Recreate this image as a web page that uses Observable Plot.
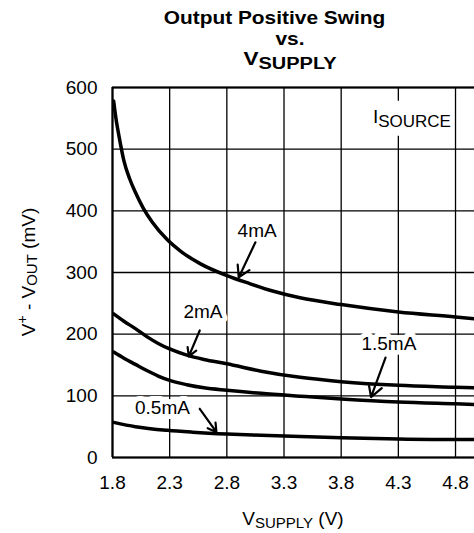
<!DOCTYPE html>
<html><head><meta charset="utf-8">
<script src="https://cdn.jsdelivr.net/npm/d3@7"></script>
<script src="https://cdn.jsdelivr.net/npm/@observablehq/plot@0.6"></script>
<style>
body{margin:0;background:#fff;overflow:hidden;}
#wrap{width:474px;height:533px;position:relative;font-family:"Liberation Sans",Arial,sans-serif;background:#fff;}
svg{display:block;}
</style></head><body><div id="wrap"></div>
<script>
// ---- data ----
const xTicks = [1.8, 2.3, 2.8, 3.3, 3.8, 4.3, 4.8];
const yTicks = [0, 100, 200, 300, 400, 500, 600];
const seriesNames = ["4mA", "2mA", "1.5mA", "0.5mA"];

const vs4mA = [1.81, 1.83, 1.86, 1.9, 1.95, 2.0, 2.07, 2.15, 2.28, 2.4, 2.57, 2.8, 3.0, 3.2, 3.44, 3.8, 4.3, 4.8, 4.97];
const mv4mA = [578, 550, 518, 481, 452, 430, 404, 381, 353, 334, 314, 295, 282, 270, 259, 248, 236, 228, 225];

const vs2mA = [1.81, 1.9, 2.0, 2.1, 2.2, 2.3, 2.45, 2.6, 2.8, 3.1, 3.44, 3.8, 4.3, 4.8, 4.97];
const mv2mA = [233, 221, 209, 196, 185, 176, 166, 159, 152, 140, 130, 123, 117, 114, 113];

const vs15mA = [1.81, 1.9, 2.0, 2.1, 2.2, 2.3, 2.45, 2.6, 2.8, 3.1, 3.44, 3.8, 4.3, 4.8, 4.97];
const mv15mA = [171, 161, 151, 141, 132, 125, 118, 113, 109, 104, 99.5, 95, 90, 87, 86];

const vs05mA = [1.81, 2.0, 2.28, 2.5, 2.8, 3.1, 3.44, 3.8, 4.3, 4.8, 4.97];
const mv05mA = [57, 50, 44, 41, 38, 36, 34, 32, 30, 29, 29];

// annotation labels (data coordinates)
const annText  = ["4mA", "2mA", "1.5mA", "0.5mA"];
const annTextX = [3.065, 2.591, 4.217, 2.237];
const annTextY = [368, 236, 184, 81];
const annFromX = [3.05, 2.563, 4.188, 2.563];
const annFromY = [349, 206, 162, 79];
const annToX   = [2.904, 2.467, 4.061, 2.709];
const annToY   = [292, 164, 98, 41];

const legendMain = "I", legendSub = "SOURCE";
const legendX = 4.082, legendY = 542;

const titleLine1 = "Output Positive Swing";
const titleLine2 = "vs.";
const titleMain3 = "V", titleSub3 = "SUPPLY";

// ---- build ----
const FONT = "Liberation Sans, Arial, sans-serif";
const rows = [];
[[vs4mA, mv4mA], [vs2mA, mv2mA], [vs15mA, mv15mA], [vs05mA, mv05mA]].forEach(([xs, ys], i) =>
  xs.forEach((x, j) => rows.push({s: seriesNames[i], x, y: ys[j]})));
const ann = annText.map((t, i) => ({t, x: annTextX[i], y: annTextY[i],
  x1: annFromX[i], y1: annFromY[i], x2: annToX[i], y2: annToY[i]}));

const wrap = d3.select("#wrap");

// title block
const TH = 76;
const T = wrap.append("svg").attr("width", 474).attr("height", TH)
  .style("font-family", FONT).style("font-weight", "bold");
T.append("text").attr("text-anchor", "middle").attr("font-size", 18)
  .attr("transform", "translate(274.5,24) scale(1.16,1)").text(titleLine1);
T.append("text").attr("text-anchor", "middle").attr("font-size", 18)
  .attr("transform", "translate(290,44.5) scale(1.16,1)").text(titleLine2);
const t3 = T.append("text").attr("text-anchor", "middle").attr("font-size", 18)
  .attr("transform", "translate(290,65) scale(1.25,1)");
t3.append("tspan").text(titleMain3);
t3.append("tspan").attr("font-size", 16).attr("dy", 4).text(titleSub3);

const plot = Plot.plot({
  width: 474, height: 533 - TH,
  marginTop: 87 - TH, marginBottom: 76, marginLeft: 112, marginRight: 0,
  style: {fontFamily: FONT, fontSize: "19px", color: "#000", background: "#fff", overflow: "visible"},
  x: {domain: [1.8, 4.966], label: null},
  y: {domain: [0, 600], label: null},
  marks: [
    Plot.gridX(xTicks, {stroke: "#000", strokeOpacity: 1, strokeWidth: 1.3}),
    Plot.gridY(yTicks, {stroke: "#000", strokeOpacity: 1, strokeWidth: 1.3}),
    Plot.ruleX([1.8], {stroke: "#000", strokeWidth: 2.2}),
    Plot.ruleY([0, 600], {stroke: "#000", strokeWidth: 2.2}),
    Plot.line(rows, {x: "x", y: "y", z: "s", stroke: "#000", strokeWidth: 3.5, curve: "monotone-x", clip: true}),
    Plot.text(ann, {x: "x", y: "y", text: "t", fontSize: 19, fill: "#000",
      stroke: "#fff", strokeWidth: 10, strokeLinejoin: "round", paintOrder: "stroke"}),
    Plot.arrow(ann, {x1: "x1", y1: "y1", x2: "x2", y2: "y2", stroke: "#000", strokeWidth: 2.2, headLength: 12}),
    Plot.axisX(xTicks, {tickSize: 0, tickPadding: 18, fontSize: 19, tickFormat: d => d.toFixed(1), label: null}),
    Plot.axisY(yTicks, {tickSize: 0, tickPadding: 15, fontSize: 19, label: null})
  ]
});
wrap.node().appendChild(plot);

const sx = plot.scale("x"), sy = plot.scale("y");
const svg = d3.select(plot);
const [x0, x1] = sx.range, [y0, y1] = sy.range;

// legend title I_SOURCE on a white box
const lgBox = svg.append("rect").attr("fill", "#fff");
const lg = svg.append("text").attr("text-anchor", "start")
  .attr("x", sx.apply(legendX)).attr("y", sy.apply(legendY))
  .attr("font-size", 19).attr("fill", "#000");
lg.append("tspan").text(legendMain);
lg.append("tspan").attr("font-size", 17).attr("dy", 4).text(legendSub);
const bb = lg.node().getBBox();
lgBox.attr("x", bb.x - 3).attr("y", bb.y - 5).attr("width", bb.width + 4).attr("height", bb.height + 10);

// y axis label
const yl = svg.append("text").attr("text-anchor", "middle").attr("font-size", 19).attr("fill", "#000")
  .attr("transform", `translate(35,${(y0 + y1) / 2}) rotate(-90)`);
yl.append("tspan").text("V");
yl.append("tspan").attr("font-size", 14).attr("dy", -8).text("+");
yl.append("tspan").attr("dy", 8).text(" - V");
yl.append("tspan").attr("font-size", 15).attr("dy", 2).text("OUT");
yl.append("tspan").attr("dy", -2).text(" (mV)");

// x axis label
const xl = svg.append("text").attr("text-anchor", "middle").attr("font-size", 19).attr("fill", "#000")
  .attr("x", (x0 + x1) / 2).attr("y", 525 - TH);
xl.append("tspan").text("V");
xl.append("tspan").attr("font-size", 15).attr("dy", 3).text("SUPPLY");
xl.append("tspan").attr("dy", -3).text(" (V)");
</script></body></html>
